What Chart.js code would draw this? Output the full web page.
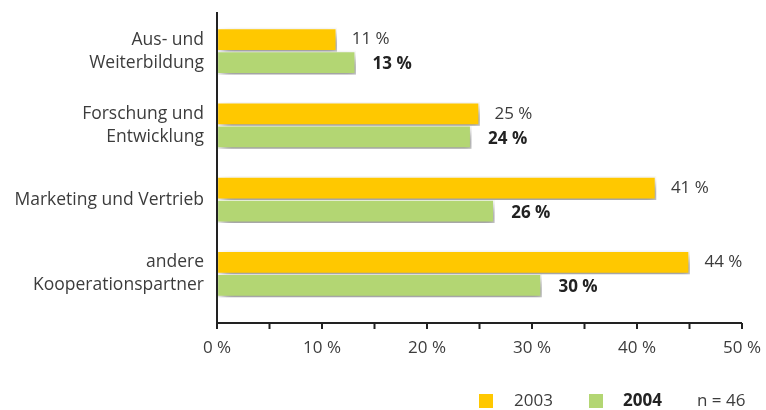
<!DOCTYPE html>
<html>
<head>
<meta charset="utf-8">
<script src="https://cdn.jsdelivr.net/npm/chart.js@4"></script>
<style>
  html, body { margin: 0; padding: 0; background: #fff; }
  #wrap { width: 766px; height: 410px; position: relative; }
</style>
</head>
<body>
<div id="wrap"><canvas id="kooperationChart"></canvas></div>
<script>
// Daten
const categories = [['Aus- und', 'Weiterbildung'], ['Forschung und', 'Entwicklung'], 'Marketing und Vertrieb', ['andere', 'Kooperationspartner']];
const years = ['2003', '2004'];
const values2003 = [11.4, 25, 41.8, 45];
const values2004 = [13.2, 24.2, 26.4, 30.9];
const labels2003 = ['11 %', '25 %', '41 %', '44 %'];
const labels2004 = ['13 %', '24 %', '26 %', '30 %'];
const xTicks = [0, 10, 20, 30, 40, 50];
const sampleNote = 'n = 46';

const colYellow = '#FFC800';
const colGreen = '#B3D673';
const colText = '#3c3c3c';
const fontFam = "'Open Sans', sans-serif";

// Schatten nur für die Balken
const shadowPlugin = {
    id: 'barShadow',
    beforeDatasetsDraw: (chart) => {
        const ctx = chart.ctx;
        ctx.save();
        ctx.shadowColor = 'rgba(0,0,0,0.42)';
        ctx.shadowBlur = 11;
        ctx.shadowOffsetX = 4;
        ctx.shadowOffsetY = 6;
    },
    afterDatasetsDraw: (chart) => {
        chart.ctx.restore();
    }
};

// Achsen, Werte und Legende selbst zeichnen
const decorPlugin = {
    id: 'decor',
    afterDraw: (chart) => {
        const ctx = chart.ctx;
        const area = chart.chartArea;
        const xs = chart.scales.x;
        const axisY = area.bottom + 12;

        ctx.save();
        ctx.strokeStyle = '#222';
        ctx.lineWidth = 2;
        ctx.beginPath();
        ctx.moveTo(area.left, area.top - 2);
        ctx.lineTo(area.left, axisY);
        ctx.lineTo(xs.getPixelForValue(50), axisY);
        ctx.stroke();
        for (let v = 0; v <= 50; v += 5) {
            const px = xs.getPixelForValue(v);
            ctx.beginPath();
            ctx.moveTo(px, axisY);
            ctx.lineTo(px, axisY + 6);
            ctx.stroke();
        }

        // Werte an den Balken
        ctx.textBaseline = 'middle';
        ctx.textAlign = 'left';
        const meta0 = chart.getDatasetMeta(0);
        const meta1 = chart.getDatasetMeta(1);
        meta0.data.forEach((bar, i) => {
            ctx.font = '400 17px ' + fontFam;
            ctx.fillStyle = colText;
            ctx.fillText(labels2003[i], bar.x + 15, bar.y);
        });
        meta1.data.forEach((bar, i) => {
            ctx.font = '700 17px ' + fontFam;
            ctx.fillStyle = '#222';
            ctx.fillText(labels2004[i], bar.x + 17, bar.y + 2);
        });

        // Legende unten rechts
        const ly = 401;
        ctx.fillStyle = colYellow;
        ctx.fillRect(479, ly - 7, 14, 14);
        ctx.fillStyle = colGreen;
        ctx.fillRect(589, ly - 7, 14, 14);
        ctx.font = '400 17px ' + fontFam;
        ctx.fillStyle = colText;
        ctx.fillText(years[0], 514, ly);
        ctx.font = '700 17px ' + fontFam;
        ctx.fillStyle = '#222';
        ctx.fillText(years[1], 623, ly);
        ctx.font = '400 17px ' + fontFam;
        ctx.fillStyle = colText;
        ctx.fillText(sampleNote, 697, ly);
        ctx.restore();
    }
};

const ctx = document.getElementById('kooperationChart').getContext('2d');
new Chart(ctx, {
    type: 'bar',
    data: {
        labels: categories,
        datasets: [
            { label: years[0], data: values2003, backgroundColor: colYellow, borderColor: '#fff', borderWidth: 1.5, barThickness: 23, borderSkipped: false },
            { label: years[1], data: values2004, backgroundColor: colGreen, borderColor: '#fff', borderWidth: 1.5, barThickness: 23, borderSkipped: false }
        ]
    },
    options: {
        indexAxis: 'y',
        responsive: true,
        maintainAspectRatio: false,
        animation: false,
        layout: { padding: { top: 14, right: 24, left: 0, bottom: 0 } },
        plugins: { legend: { display: false }, tooltip: { enabled: false } },
        scales: {
            x: {
                min: 0,
                max: 50,
                afterFit: (scale) => {
                    scale.height = 99;
                    scale.paddingLeft = 0;
                    scale.paddingRight = 0;
                },
                afterBuildTicks: (scale) => { scale.ticks = xTicks.map(v => ({ value: v })); },
                border: { display: false },
                grid: { display: false, drawTicks: false },
                ticks: {
                    padding: 27,
                    color: colText,
                    font: { family: fontFam, size: 17 },
                    callback: (v) => v + ' %'
                }
            },
            y: {
                afterFit: (scale) => {
                    scale.width = 217;
                    scale.paddingTop = 0;
                    scale.paddingBottom = 0;
                },
                border: { display: false },
                grid: { display: false, drawTicks: false },
                ticks: {
                    padding: 13,
                    color: colText,
                    font: { family: fontFam, size: 17.5, lineHeight: 1.32 }
                }
            }
        }
    },
    plugins: [shadowPlugin, decorPlugin]
});
</script>
</body>
</html>
